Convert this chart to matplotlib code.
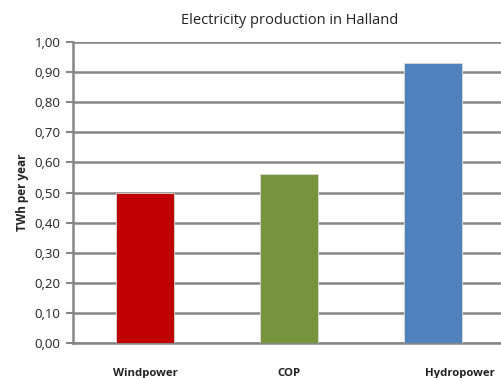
import matplotlib
matplotlib.use("Agg")
import matplotlib.pyplot as plt
from matplotlib.transforms import ScaledTranslation

categories = ["Windpower", "COP", "Hydropower"]
values = [0.50, 0.56, 0.93]
colors = ["#C00000", "#77933C", "#4F81BD"]
yticks = [0.0, 0.1, 0.2, 0.3, 0.4, 0.5, 0.6, 0.7, 0.8, 0.9, 1.0]

plt.rcParams["font.family"] = ["Open Sans", "DejaVu Sans"]
fig = plt.figure(figsize=(5.02, 3.78), dpi=100)
ax = fig.add_axes([73 / 502, 35 / 378, 432 / 502, 301 / 378])

x = list(range(len(categories)))
ax.bar(x, values, width=0.4, color=colors, edgecolor="#d9d9d9", linewidth=0.6, zorder=3)

ax.set_xlim(-0.5, 2.5)
ax.set_ylim(0, 1.0)
ax.set_yticks(yticks)
ax.set_yticklabels([f"{v:.2f}".replace(".", ",") for v in yticks], fontsize=9.5, color="#222222")
ax.yaxis.grid(True, color="#868686", linewidth=1.8, zorder=0)
ax.tick_params(axis="y", length=5, width=1.5, color="#868686", pad=4)
ax.tick_params(axis="x", length=0, pad=18)
ax.set_xticks(x)
ax.set_xticklabels(categories, fontsize=8.2, fontweight="bold", color="#222222")
lbl = ax.get_xticklabels()[2]
lbl.set_transform(lbl.get_transform() + ScaledTranslation(27 / 100, 0, fig.dpi_scale_trans))

for s in ["top", "right"]:
    ax.spines[s].set_visible(False)
ax.spines["left"].set_color("#868686")
ax.spines["left"].set_linewidth(1.8)
ax.spines["bottom"].set_color("#868686")
ax.spines["bottom"].set_linewidth(1.8)

ax.set_ylabel("TWh per year", fontsize=8.5, fontweight="bold", color="#222222", labelpad=4)
ax.set_title("Electricity production in Halland", fontsize=10.5, color="#222222", pad=13, x=(290 - 73) / 432)

fig.savefig("out.png", dpi=100)
